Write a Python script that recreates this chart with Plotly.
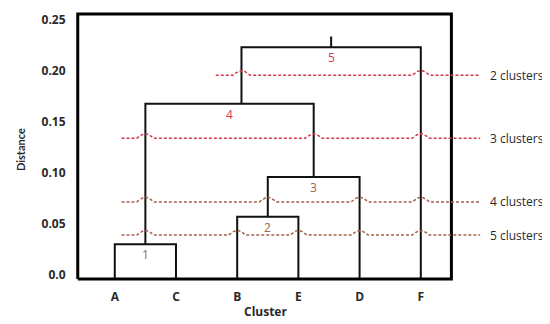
import numpy as np
import plotly.graph_objects as go

# ---------------- data ----------------
leaves = ["A", "C", "B", "E", "D", "F"]
leaf_pos = [1, 2, 3, 4, 5, 6]

# merges: (left child, right child), height, drawn position of the new node
merge_children = [("A", "C"), ("B", "E"), ("n2", "D"), ("n1", "n3"), ("n4", "F")]
merge_heights = [0.030, 0.057, 0.096, 0.168, 0.2235]
merge_pos = [1.5, 3.5, 4.25, 3.07, 4.535]
merge_names = ["n1", "n2", "n3", "n4", "n5"]
merge_labels = ["1", "2", "3", "4", "5"]
root_top = 0.234

cut_heights = [0.196, 0.134, 0.0716, 0.039]
cut_labels = ["2 clusters", "3 clusters", "4 clusters", "5 clusters"]
cut_start = [2.65, 1.11, 1.11, 1.11]
cut_end = 6.97

y_ticks = [0.0, 0.05, 0.10, 0.15, 0.20, 0.25]
y_ticktext = ["0.0", "0.05", "0.10", "0.15", "0.20", "0.25"]

# ---------------- styles ----------------
box_x = (0.395, 6.5)
box_y = (-0.004, 0.256)
RED = "#d23a4c"
BROWN = "#a2624c"
cut_colors = [RED, RED, BROWN, BROWN]
num_colors = [BROWN, BROWN, BROWN, RED, RED]
TXT = "#2a2a2a"
FONT = "Open Sans, Liberation Sans, sans-serif"

fig = go.Figure()

# dendrogram segments
pos = {l: p for l, p in zip(leaves, leaf_pos)}
hgt = {l: box_y[0] for l in leaves}
verticals = []  # (x, y0, y1)
xs, ys = [], []
for (a, b), h, p, name in zip(merge_children, merge_heights, merge_pos, merge_names):
    xa, xb = pos[a], pos[b]
    xs += [xa, xa, xb, xb, None]
    ys += [hgt[a], h, h, hgt[b], None]
    verticals += [(xa, hgt[a], h), (xb, hgt[b], h)]
    pos[name] = p
    hgt[name] = h
root = merge_names[-1]
xs += [pos[root], pos[root], None]
ys += [hgt[root], root_top, None]
verticals.append((pos[root], hgt[root], root_top))

fig.add_trace(go.Scatter(x=xs, y=ys, mode="lines",
                         line=dict(color="#111111", width=2),
                         hoverinfo="skip", showlegend=False))

# frame
fig.add_trace(go.Scatter(
    x=[box_x[0], box_x[1], box_x[1], box_x[0], box_x[0]],
    y=[box_y[0], box_y[0], box_y[1], box_y[1], box_y[0]],
    mode="lines", line=dict(color="#000000", width=3),
    hoverinfo="skip", showlegend=False))

# cut lines with hops over the vertical branches
bw, bh = 0.14, 0.0045
for yc, x0, col, lab in zip(cut_heights, cut_start, cut_colors, cut_labels):
    crossings = sorted(v[0] for v in verticals if v[1] < yc < v[2] and x0 < v[0] < cut_end)
    cx, cy = [x0], [yc]
    for xc in crossings:
        t = np.linspace(-1, 1, 15)
        bump = ((1 + np.cos(np.pi * t)) / 2) ** 0.5
        cx += list(xc + bw * t)
        cy += list(yc + bh * bump)
    cx.append(cut_end)
    cy.append(yc)
    fig.add_trace(go.Scatter(x=cx, y=cy, mode="lines",
                             line=dict(color=col, width=1.5, dash="3px,2px"),
                             hoverinfo="skip", showlegend=False))
    fig.add_annotation(x=1.015, xref="paper", y=yc, yref="y", text=lab, showarrow=False,
                       xanchor="left", yanchor="middle",
                       font=dict(family=FONT, size=12, color=TXT))

# merge number labels
for idx, (lab, col) in enumerate(zip(merge_labels, num_colors)):
    a, b = merge_children[idx]
    xm = (pos[a] + pos[b]) / 2
    fig.add_annotation(x=xm, y=merge_heights[idx] - 0.0105, text=lab, showarrow=False,
                       xanchor="center", yanchor="middle",
                       font=dict(family=FONT, size=12, color=col))

# axis titles
fig.add_annotation(x=3.47, xref="x", y=-0.106, yref="paper", text="Cluster", showarrow=False,
                   xanchor="center", yanchor="middle",
                   font=dict(family=FONT, size=12, color=TXT, weight="bold"))
fig.add_annotation(x=-0.135, xref="paper", y=0.487, yref="paper", text="Distance",
                   showarrow=False, textangle=-90, xanchor="center", yanchor="middle",
                   font=dict(family="Lato, sans-serif", size=11, color=TXT, weight="bold"))

fig.update_layout(
    width=542, height=316,
    margin=dict(l=67, r=68, t=2, b=41),
    paper_bgcolor="white", plot_bgcolor="white",
    xaxis=dict(range=[0.35, 7.0], tickvals=leaf_pos, ticktext=leaves,
               showgrid=False, zeroline=False, showline=False,
               ticks="outside", ticklen=3, tickcolor="rgba(0,0,0,0)",
               tickfont=dict(family=FONT, size=12, color=TXT, weight="bold")),
    yaxis=dict(range=[-0.008, 0.26], tickvals=y_ticks, ticktext=y_ticktext,
               showgrid=False, zeroline=False, showline=False,
               ticks="outside", ticklen=6, tickcolor="rgba(0,0,0,0)",
               tickfont=dict(family=FONT, size=12, color=TXT, weight="bold")),
)

fig.write_html("out.html")
